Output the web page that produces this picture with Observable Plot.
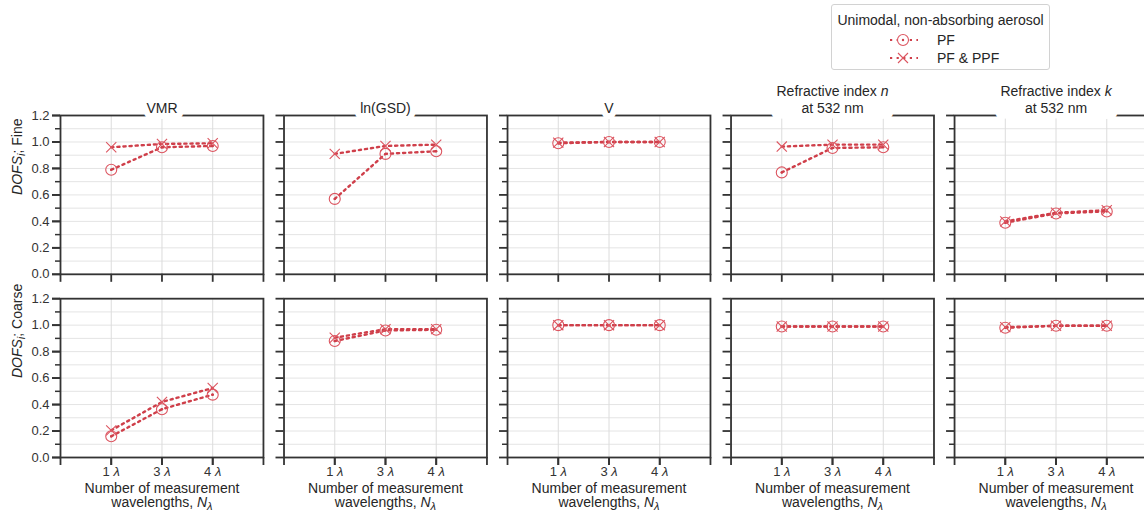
<!DOCTYPE html>
<html>
<head>
<meta charset="utf-8">
<script src="https://cdn.jsdelivr.net/npm/d3@7"></script>
<script src="https://cdn.jsdelivr.net/npm/@observablehq/plot@0.6"></script>
<style>
  html, body { margin: 0; padding: 0; background: #fff; overflow: hidden; width: 1144px; height: 511px; }
  #wrap { position: relative; width: 1144px; height: 511px; overflow: hidden; font-family: "Liberation Sans", Arial, sans-serif; color: #262626; }
  #wrap svg.chart { position: absolute; left: 0; top: 0; max-width: none !important; }
  #legend { position: absolute; left: 831px; top: 4px; width: 219px; height: 66px; border: 1px solid #d2d2d2; border-radius: 3px; box-sizing: border-box; background: #fff; }
  #legend .ttl { position: absolute; left: 0; right: 0; top: 7px; text-align: center; font-size: 14px; line-height: 16px; white-space: nowrap; }
  #legend .row { position: absolute; left: 0; height: 16px; }
  #legend .row svg { position: absolute; left: 52px; top: 0; }
  #legend .row span { position: absolute; left: 105px; top: 0; font-size: 14px; line-height: 16px; white-space: nowrap; }
</style>
</head>
<body>
<div id="wrap">
  <div id="legend">
    <div class="ttl">Unimodal, non-absorbing aerosol</div>
    <div class="row" style="top:27px">
      <svg width="38" height="16"><line x1="6" y1="8" x2="34" y2="8" stroke="#cf3f4a" stroke-width="2.2" stroke-dasharray="2.2 4.4"/><circle cx="19" cy="8" r="5.5" fill="#fff" stroke="#dc5560" stroke-width="1.1"/><circle cx="19" cy="8" r="1.2" fill="#cf3f4a"/></svg>
      <span>PF</span>
    </div>
    <div class="row" style="top:45px">
      <svg width="38" height="16"><line x1="6" y1="8" x2="34" y2="8" stroke="#cf3f4a" stroke-width="2.2" stroke-dasharray="2.2 4.4"/><path d="M14,3L24,13M14,13L24,3" stroke="#dc5560" stroke-width="1.1"/></svg>
      <span>PF &amp; PPF</span>
    </div>
  </div>
</div>
<script>
// ---------- data ----------
const paramIds = ["VMR", "ln(GSD)", "V", "n", "k"];
const paramTitles = ["VMR", "ln(GSD)", "V", "Refractive index *n*\nat 532 nm", "Refractive index *k*\nat 532 nm"];
const paramTitleWidest = ["VMR", "ln(GSD)", "V", "Refractive index *n*", "Refractive index *k*"];
const modes = ["Fine", "Coarse"];
const modeLabels = ["*DOFS*_{*i*}; Fine", "*DOFS*_{*i*}; Coarse"];
const nLambda = ["1", "3", "4"];
const seriesNames = ["PF", "PF & PPF"];
const xLabel = "Number of measurement\nwavelengths, *N*_{*λ*}";
const yMajorTicks = [0, 0.2, 0.4, 0.6, 0.8, 1.0, 1.2];
const yMinorTicks = [0.1, 0.3, 0.5, 0.7, 0.9, 1.1];

// values per parameter (rows) at 1, 3, 4 wavelengths (columns)
const pfFine = [
  [0.79, 0.96, 0.97],
  [0.57, 0.91, 0.93],
  [0.99, 1.00, 1.00],
  [0.77, 0.955, 0.96],
  [0.39, 0.46, 0.475]
];
const ppfFine = [
  [0.96, 0.985, 0.99],
  [0.91, 0.97, 0.98],
  [0.995, 1.00, 1.00],
  [0.965, 0.98, 0.98],
  [0.40, 0.465, 0.485]
];
const pfCoarse = [
  [0.16, 0.365, 0.475],
  [0.88, 0.96, 0.965],
  [1.00, 1.00, 1.00],
  [0.99, 0.99, 0.99],
  [0.98, 0.995, 0.995]
];
const ppfCoarse = [
  [0.205, 0.42, 0.525],
  [0.905, 0.97, 0.97],
  [1.00, 1.00, 1.00],
  [0.99, 0.99, 0.99],
  [0.985, 0.995, 0.995]
];

// ---------- table ----------
const tables = {Fine: [pfFine, ppfFine], Coarse: [pfCoarse, ppfCoarse]};
const rows = [];
for (const mode of modes) {
  tables[mode].forEach((tbl, s) => {
    tbl.forEach((vals, p) => {
      vals.forEach((v, w) => {
        rows.push({mode, param: paramIds[p], x: w + 1, value: v, series: seriesNames[s]});
      });
    });
  });
}
const pfRows = rows.filter(d => d.series === "PF");
const ppfRows = rows.filter(d => d.series === "PF & PPF");
const titleRows = paramIds.map((id, i) => ({param: id, title: paramTitles[i], widest: paramTitleWidest[i]}));
const modeRows = modes.map((m, i) => ({mode: m, label: modeLabels[i]}));

const lineColor = "#cf3f4a";
const markColor = "#dc5560";
const ink = "#333";

const chart = Plot.plot({
  width: 1160,
  height: 511,
  marginLeft: 60,
  marginRight: 3,
  marginTop: 115,
  marginBottom: 54,
  style: {fontFamily: "Liberation Sans, Arial, sans-serif", fontSize: "13px", color: "#262626", background: "transparent", maxWidth: "none"},
  fx: {domain: paramIds, axis: null, paddingInner: 0.092, paddingOuter: 0, round: false},
  fy: {domain: modes, axis: null, paddingInner: 0.133, paddingOuter: 0, round: false},
  x: {domain: [0, 4], label: null},
  y: {domain: [0, 1.2], label: null},
  marks: [
    Plot.gridY({ticks: [...yMajorTicks, ...yMinorTicks], stroke: "#e4e4e4", strokeOpacity: 1, strokeWidth: 1}),
    Plot.gridX({ticks: [1, 2, 3], stroke: "#dcdcdc", strokeOpacity: 1, strokeWidth: 1}),
    Plot.frame({stroke: ink, strokeWidth: 1.8}),
    // tick marks on every panel
    Plot.axisY({ticks: yMajorTicks, tickSize: 8, tickFormat: () => "", facetAnchor: null, stroke: ink, strokeWidth: 1.8, label: null}),
    Plot.axisY({ticks: yMinorTicks, tickSize: 5, tickFormat: () => "", facetAnchor: null, stroke: ink, strokeWidth: 1.5, label: null}),
    Plot.axisX({ticks: [0, 1, 2, 3, 4], tickSize: 8, tickFormat: () => "", facetAnchor: null, stroke: ink, strokeWidth: 1.8, label: null}),
    // labelled axes
    Plot.axisY({ticks: yMajorTicks, tickSize: 8, tickPadding: 3, tickFormat: d => d.toFixed(1), stroke: ink, strokeWidth: 1.8, fill: "#333", fontSize: 13, label: null}),
    Plot.axisX({ticks: [1, 2, 3], tickSize: 8, tickPadding: 1.5, tickFormat: d => nLambda[d - 1] + " *λ*", stroke: ink, strokeWidth: 1.8, fill: "#333", fontSize: 13, label: null}),
    // series
    Plot.line(rows, {fx: "param", fy: "mode", x: "x", y: "value", z: "series", stroke: lineColor, strokeWidth: 2.4, strokeDasharray: "2.2 3.9"}),
    Plot.dot(pfRows, {fx: "param", fy: "mode", x: "x", y: "value", r: 5.5, stroke: markColor, strokeWidth: 1.1, fill: "none"}),
    Plot.dot(pfRows, {fx: "param", fy: "mode", x: "x", y: "value", r: 1.2, fill: lineColor, stroke: null}),
    Plot.dot(ppfRows, {fx: "param", fy: "mode", x: "x", y: "value", symbol: "times", r: 4.7, stroke: markColor, strokeWidth: 1.1}),
    // panel titles (mask + text)
    Plot.text(titleRows, {fx: "param", fy: () => "Fine", text: "widest", frameAnchor: "top", lineAnchor: "bottom", dy: -3, fill: "white", stroke: "white", strokeWidth: 12, fontSize: 14}),
    Plot.text(titleRows, {fx: "param", fy: () => "Fine", text: "title", frameAnchor: "top", lineAnchor: "bottom", dy: -3, fill: "#262626", fontSize: 14, lineHeight: 1.2}),
    // y labels
    Plot.text(modeRows, {fx: () => "VMR", fy: "mode", text: "label", frameAnchor: "left", rotate: -90, dx: -43, fill: "#262626", fontSize: 14}),
    // x labels
    Plot.text(titleRows, {fx: "param", fy: () => "Coarse", text: () => xLabel, frameAnchor: "bottom", lineAnchor: "top", dy: 24.5, fill: "#262626", fontSize: 14, lineHeight: 1.06})
  ]
});
chart.classList.add("chart");
chart.style.maxWidth = "none";

// rich text: *italic*, _{subscript}
function richify(el) {
  const s = el.textContent;
  const fs = parseFloat(getComputedStyle(el).fontSize) || 13;
  const segs = [];
  let italic = false, sub = false, buf = "";
  const flush = () => { if (buf) { segs.push({t: buf, italic, sub}); buf = ""; } };
  for (let i = 0; i < s.length; i++) {
    const c = s[i];
    if (c === "*") { flush(); italic = !italic; continue; }
    if (c === "_" && s[i + 1] === "{") { flush(); sub = true; i++; continue; }
    if (c === "}" && sub) { flush(); sub = false; continue; }
    buf += c;
  }
  flush();
  el.textContent = "";
  let prevSub = false;
  const shift = fs * 0.22;
  for (const g of segs) {
    const t = document.createElementNS("http://www.w3.org/2000/svg", "tspan");
    if (g.italic) t.setAttribute("font-style", "italic");
    if (g.sub) t.setAttribute("font-size", (fs * 0.8) + "px");
    if (g.sub !== prevSub) t.setAttribute("dy", g.sub ? shift : -shift);
    prevSub = g.sub;
    t.textContent = g.t;
    el.appendChild(t);
  }
}
document.getElementById("wrap").insertBefore(chart, document.getElementById("legend"));
chart.querySelectorAll("text, tspan").forEach(el => {
  if (el.childNodes.length === 1 && el.firstChild.nodeType === 3 && /[*]|_\{/.test(el.textContent)) richify(el);
});
</script>
</body>
</html>
